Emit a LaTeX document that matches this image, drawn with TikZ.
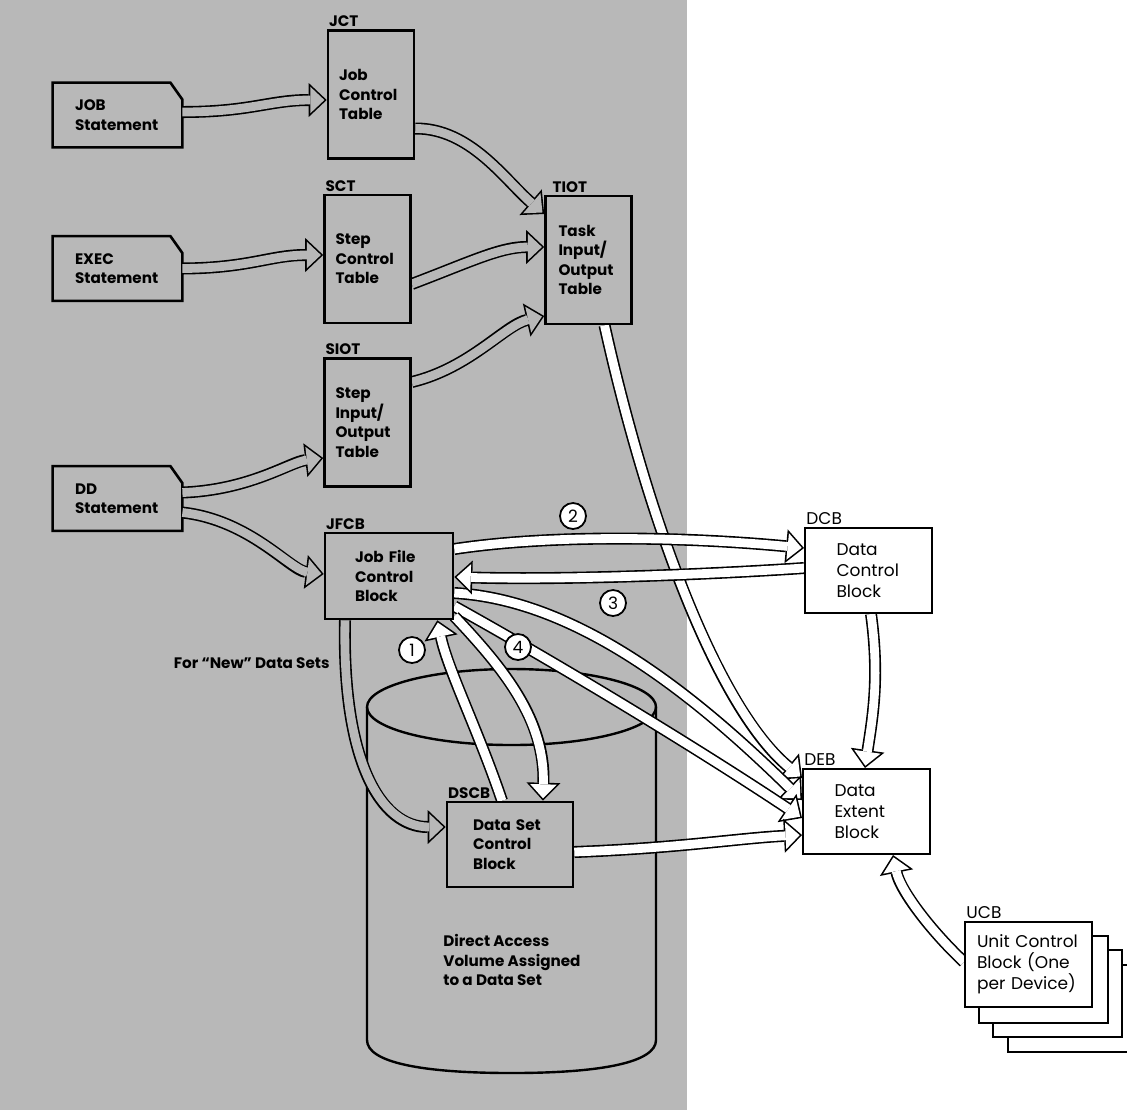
\documentclass[tikz,border=0pt]{standalone}
\usepackage{fontspec}
\setmainfont{Poppins}
\usetikzlibrary{arrows.meta}
\definecolor{halftone}{gray}{0.72}
\pgfdeclarelayer{back}
\pgfsetlayers{back,main}
\newcommand{\fatarrow}[2]{%
  \draw[shaftout] #2;
  \draw[shaftin,#1] #2;
}

\begin{document}
\begin{tikzpicture}[x=0.5pt,y=-0.5pt,
    boldtext/.style={font=\fontsize{7.6}{9.75}\selectfont\bfseries},
    plaintext/.style={font=\fontsize{8.5}{10.5}\selectfont},
    greybox/.style={draw, line width=1.3pt, fill=halftone, align=left, inner ysep=0pt, boldtext},
    whitebox/.style={draw, line width=1pt, fill=white, align=left, inner ysep=0pt, plaintext,
      minimum width=63.5pt, minimum height=42.5pt, text width=32pt, inner xsep=15.75pt},
    tblbox/.style={greybox, minimum width=43pt, minimum height=64pt, text width=32pt, inner xsep=5.5pt},
    stmtbox/.style={align=left, boldtext, minimum width=64.5pt, minimum height=32pt,
      text width=42.5pt, inner xsep=11pt, inner ysep=0pt},
    boxtag/.style={anchor=south west, inner sep=1pt, boldtext},
    plaintag/.style={anchor=south west, inner sep=1pt, plaintext},
    numdisc/.style={circle, draw, line width=0.9pt, fill=white, minimum size=13pt, inner sep=0pt, plaintext},
    shaftout/.style={line width=6pt, -{Triangle[length=9pt,width=17pt,line width=0pt]}},
    shaftin/.style={line width=4.4pt, shorten >=1.17pt, -{Triangle[length=7.03pt,width=13.28pt,line width=0pt]}},
  ]
    \useasboundingbox (0,0) rectangle (1127,1110);

    % shaded half and the volume
    \begin{pgfonlayer}{back}
      \fill[halftone] (0,0) rectangle (687,1110);
      \draw[line width=1.2pt] (511.5,707) ellipse [x radius=72.25pt, y radius=19pt];
      \draw[line width=1.2pt] (367,707) -- (367,1040) .. controls (367,1062) and (420,1073) .. (511.5,1073)
        .. controls (603,1073) and (656,1062) .. (656,1040) -- (656,707);
    \end{pgfonlayer}

    % control statements
    \node[stmtbox] (job)  at (117.5,115)   {JOB\\Statement};
    \node[stmtbox] (exec) at (117.5,268.5) {EXEC\\Statement};
    \node[stmtbox] (dd)   at (117.5,498.5) {DD\\Statement};

    % tables and blocks
    \node[tblbox] (jct)  at (371,94.5)    {Job\\Control\\Table};
    \node[tblbox] (sct)  at (367.5,259)   {Step\\Control\\Table};
    \node[tblbox] (siot) at (367.5,422.5) {Step\\Input/\\Output\\Table};
    \node[tblbox, text width=30pt, inner xsep=6.5pt] (tiot) at (588.5,260) {Task\\Input/\\Output\\Table};
    \node[greybox, minimum width=64pt, minimum height=43pt, text width=34pt, inner xsep=15pt]
      (jfcb) at (389,576) {Job File\\Control\\Block};
    \node[greybox, minimum width=63pt, minimum height=42.5pt, text width=37pt, inner xsep=13pt]
      (dscb) at (510,844.5) {Data Set\\Control\\Block};
    \node[whitebox] (dcb) at (868.5,570.5) {Data\\Control\\Block};
    \node[whitebox] (deb) at (866.5,811.5) {Data\\Extent\\Block};
    \node[whitebox, text width=51.5pt, inner xsep=6pt] (ucb) at (1028.5,964.5) {Unit Control\\Block (One\\per Device)};

    \node[boxtag] (jctname)  at (jct.north west)  {JCT};
    \node[boxtag] (sctname)  at (sct.north west)  {SCT};
    \node[boxtag] (siotname) at (siot.north west) {SIOT};
    \node[boxtag] (tiotname) at ([xshift=3pt]tiot.north west) {TIOT};
    \node[boxtag] (jfcbname) at (jfcb.north west) {JFCB};
    \node[boxtag] (dscbname) at (dscb.north west) {DSCB};
    \node[plaintag] (dcbname) at (dcb.north west) {DCB};
    \node[plaintag] (debname) at (deb.north west) {DEB};
    \node[plaintag] (ucbname) at (ucb.north west) {UCB};

    \node[numdisc] (n1) at (412,650) {1};
    \node[numdisc] (n2) at (573,516) {2};
    \node[numdisc] (n3) at (613,603) {3};
    \node[numdisc] (n4) at (518,647) {4};

    \node[boldtext, anchor=east, inner sep=0pt] (newsets) at (330,663) {For ``New'' Data Sets};
    \node[boldtext, anchor=north west, align=left, inner sep=0pt] (volume) at (443,934)
      {Direct Access\\Volume Assigned\\to a Data Set};

    \begin{pgfonlayer}{back}
      \foreach \s in {job,exec,dd} {
        \draw[line width=1.3pt] (\s.south west) -- (\s.north west) -- ([xshift=-6pt]\s.north east)
          -- ([yshift=-8.5pt]\s.north east) -- (\s.south east) -- cycle;
      }
      \foreach \k in {3,2,1} {
        \draw[line width=1pt, fill=white] ([shift={(\k*7.25pt,-\k*7.25pt)}]ucb.south west)
          rectangle ([shift={(\k*7.25pt,-\k*7.25pt)}]ucb.north east);
      }

      % grey shafts
      \fatarrow{halftone}{([yshift=1.5pt]job.east) .. controls (250,112) and (270,100) .. ([yshift=-2.75pt]jct.west)}
      \fatarrow{halftone}{(exec.east) .. controls (250,268) and (270,255) .. ([yshift=2pt]sct.west)}
      \fatarrow{halftone}{([yshift=-17pt]jct.east) .. controls (470,128) and (505,180) .. ([yshift=23pt]tiot.west)}
      \fatarrow{halftone}{([yshift=-12.5pt]sct.east) .. controls (470,262) and (500,247) .. ([yshift=6.5pt]tiot.west)}
      \fatarrow{halftone}{([yshift=20.25pt]siot.east) .. controls (470,368) and (505,325) .. ([yshift=-28pt]tiot.west)}
      \fatarrow{halftone}{([yshift=3pt]dd.east) .. controls (250,490) and (290,462) .. ([yshift=-17.75pt]siot.west)}
      \fatarrow{halftone}{([yshift=-7pt]dd.east) .. controls (250,520) and (290,570) .. ([yshift=1pt]jfcb.west)}
      \fatarrow{halftone}{([xshift=-22pt]jfcb.south) .. controls (342,760) and (380,827) .. ([yshift=8.75pt]dscb.west)}

      % white shafts
      \fatarrow{white}{([xshift=8pt]tiot.south) .. controls (650,530) and (720,710) .. ([yshift=16.75pt]deb.west)}
      \fatarrow{white}{([yshift=-8.5pt]jfcb.east) .. controls (580,600) and (700,700) .. ([yshift=5.75pt]deb.west)}
      \fatarrow{white}{([yshift=7pt]jfcb.south east) .. controls (560,665) and (700,750) .. ([yshift=-3.25pt]deb.west)}
      \fatarrow{white}{([yshift=13.5pt]jfcb.east) .. controls (560,533) and (700,538) .. ([yshift=11.25pt]dcb.west)}
      \fatarrow{white}{([yshift=1.25pt]dcb.west) .. controls (700,575) and (560,580) .. ([yshift=-0.5pt]jfcb.east)}
      \fatarrow{white}{([xshift=-4pt]dscb.north) .. controls (478,730) and (448,670) .. ([xshift=-8.5pt]jfcb.south east)}
      \fatarrow{white}{([yshift=2pt]jfcb.south east) .. controls (505,670) and (545,720) .. ([xshift=16.5pt]dscb.north)}
      \fatarrow{white}{([yshift=-3.75pt]dscb.east) .. controls (680,848) and (740,838) .. ([yshift=-11.75pt]deb.west)}
      \fatarrow{white}{([xshift=1.25pt]dcb.south) .. controls (880,680) and (872,720) .. ([xshift=-0.75pt]deb.north)}
      \fatarrow{white}{([yshift=1.25pt]ucb.west) .. controls (930,930) and (900,890) .. ([xshift=13.25pt]deb.south)}
    \end{pgfonlayer}
\end{tikzpicture}
\end{document}
